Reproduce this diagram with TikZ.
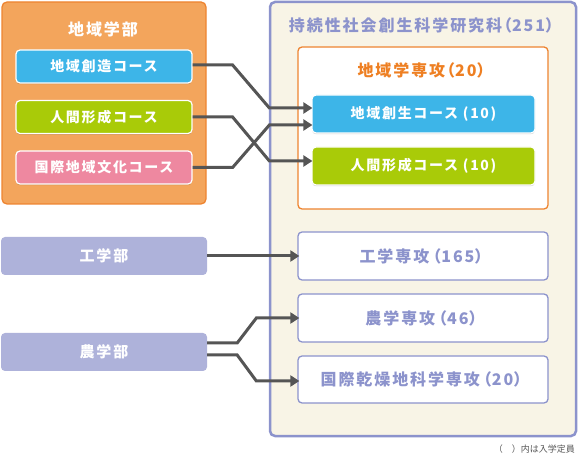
\documentclass[tikz,border=0pt]{standalone}
\usepackage{fontspec}
\setmainfont{Noto Sans CJK JP}[LetterSpace=12]
\newfontfamily\notefont{Noto Sans CJK JP}
\usetikzlibrary{arrows.meta,calc,shadows}
\newcommand{\lpar}[1][0.62em]{\makebox[#1][r]{（}}
\newcommand{\rpar}[1][0.62em]{\makebox[#1][l]{）}}
\definecolor{orfill}{HTML}{F3A55C}
\definecolor{ordraw}{HTML}{EE8430}
\definecolor{ortext}{HTML}{EE7F22}
\definecolor{cblue}{HTML}{3DB5E8}
\definecolor{cgreen}{HTML}{A9CB08}
\definecolor{cpink}{HTML}{EE88A0}
\definecolor{lavfill}{HTML}{AEB2DA}
\definecolor{lav}{HTML}{8C93CC}
\definecolor{cream}{HTML}{F8F4E6}
\definecolor{connc}{HTML}{555555}
\definecolor{notec}{HTML}{555555}
\tikzset{
  box/.style={rounded corners=4pt, inner sep=0pt, text=white,
    font=\bfseries\fontsize{14}{14}\selectfont},
  course/.style={box, draw=white, line width=1.2pt,
    drop shadow={shadow xshift=0pt, shadow yshift=-1.2pt, opacity=0.18, fill=black}},
  leftcourse/.style={course, minimum width=176pt, minimum height=33pt},
  rightcourse/.style={course, minimum width=223pt, minimum height=38pt},
  faculty/.style={box, fill=lavfill, minimum width=206pt, minimum height=38pt,
    font=\bfseries\fontsize{15}{15}\selectfont},
  major/.style={box, draw=lav, fill=white, line width=1.3pt, text=lav,
    minimum width=250pt, font=\bfseries\fontsize{16}{16}\selectfont},
  title/.style={inner sep=0pt, font=\bfseries\fontsize{16}{16}\selectfont},
  conn/.style={draw=connc, line width=3pt, -{Triangle[length=9pt,width=11pt]}},
}
\begin{document}
\begin{tikzpicture}[x=1pt,y=-1pt]
\useasboundingbox (0,0) rectangle (579,457);
% left faculty block
\node[draw=ordraw, fill=orfill, line width=1.3pt, rounded corners=5pt,
  minimum width=204pt, minimum height=202pt] (fac1) at (104,103) {};
\node[title, text=white] (t1) at (103,29) {地域学部};
\node[leftcourse, fill=cblue] (c1) at (104,66.5) {地域創造コース};
\node[leftcourse, fill=cgreen] (c2) at (104,117) {人間形成コース};
\node[leftcourse, fill=cpink] (c3) at (104,167.5) {国際地域文化コース};
% graduate school
\node[draw=lav, fill=cream, line width=2.5pt, rounded corners=5pt,
  minimum width=306pt, minimum height=434pt] (grad) at (423,219) {};
\node[title, text=lav] (t2) at (422,25) {持続性社会創生科学研究科\lpar 251\rpar};
\node[draw=ordraw, fill=white, line width=1.3pt, rounded corners=4pt,
  minimum width=250pt, minimum height=162pt] (maj1) at (423,128) {};
\node[title, text=ortext] (t3) at (422,70) {地域学専攻\lpar 20\rpar};
\node[rightcourse, fill=cblue] (m1) at (423.5,114) {地域創生コース (10)};
\node[rightcourse, fill=cgreen] (m2) at (423.5,166) {人間形成コース (10)};
% other faculties
\node[faculty] (k1) at (104,256) {工学部};
\node[faculty] (n1) at (104,352) {農学部};
\node[major, minimum height=48pt] (g1) at (423,256) {工学専攻\lpar[0.75em]165\rpar[0.75em]};
\node[major, minimum height=48pt] (g2) at (423,318) {農学専攻\lpar[0.75em]46\rpar[0.75em]};
\node[major, minimum height=47pt] (g3) at (423,379.5) {国際乾燥地科学専攻\lpar[0.75em]20\rpar[0.75em]};
% connectors
\draw[conn] ($(c1.east)+(0,-1.5)$) -- ++(40,0) -- ($(m1.west)+(-42,-6)$) -- ($(m1.west)+(1,-6)$);
\draw[conn] (c2.east) -- ++(40,0) -- ($(m2.west)+(-42,-5)$) -- ($(m2.west)+(1,-5)$);
\draw[conn] (c3.east) -- ++(40,0) -- ($(m1.west)+(-42,11)$) -- ($(m1.west)+(1,11)$);
\draw[conn] (k1.east) -- ($(g1.west)+(2,0)$);
\draw[conn] ($(n1.east)+(0,-9)$) -- ++(30,0) -- ($(g2.west)+(-41,0)$) -- ($(g2.west)+(2,0)$);
\draw[conn] ($(n1.east)+(0,3)$) -- ++(30,0) -- ($(g3.west)+(-41,1.5)$) -- ($(g3.west)+(2,1.5)$);
% note
\node[inner sep=0pt, anchor=east, text=notec, font=\notefont\fontsize{9}{9}\selectfont] (note) at (575,449) {（　）内は入学定員};
\end{tikzpicture}
\end{document}
